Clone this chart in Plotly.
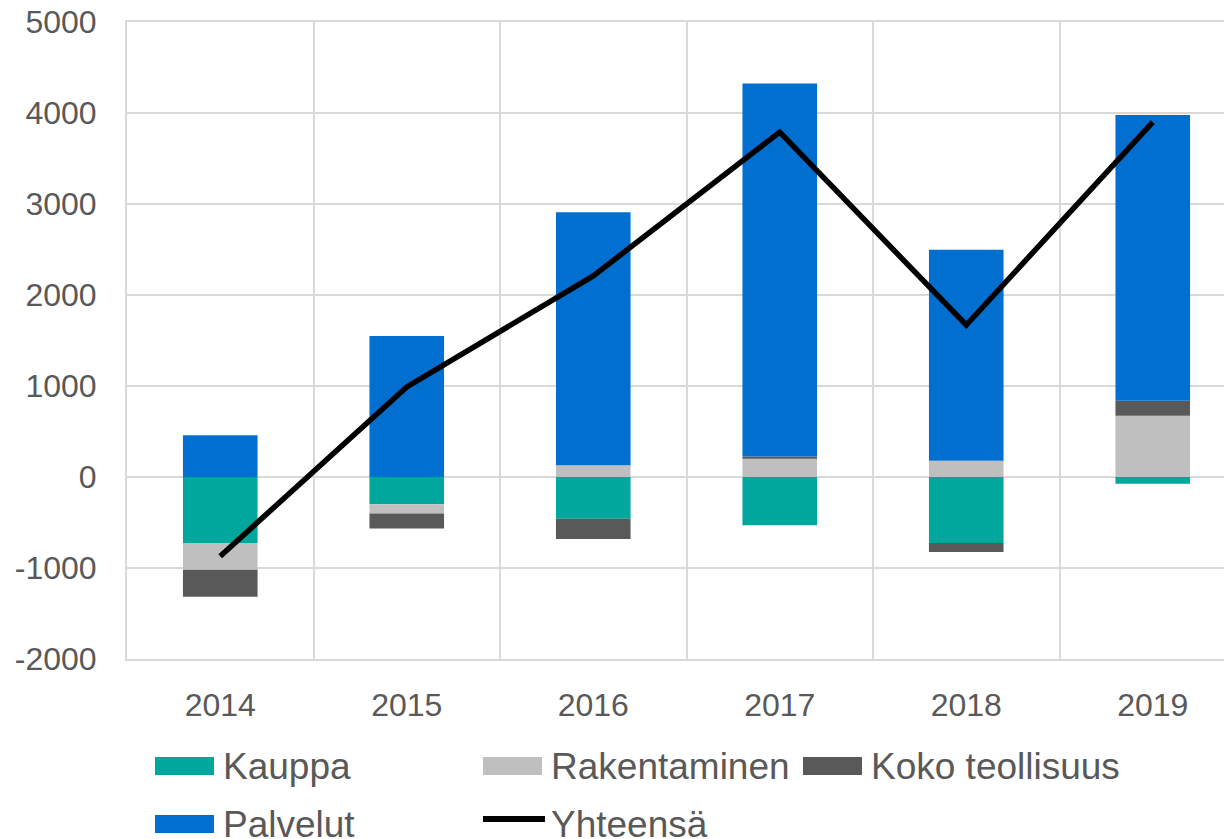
import plotly.graph_objects as go

years = ["2014", "2015", "2016", "2017", "2018", "2019"]
kauppa = [-725, -300, -460, -530, -725, -75]
rakentaminen = [-295, -100, 130, 200, 178, 673]
koko_teollisuus = [-295, -165, -220, 25, -100, 165]
palvelut = [460, 1550, 2780, 4100, 2320, 3140]
yhteensa = [-870, 990, 2210, 3790, 1670, 3900]
y_ticks = [-2000, -1000, 0, 1000, 2000, 3000, 4000, 5000]

grid = "#D9D9D9"
text_col = "#595959"

# the page body has an 8px margin, so the figure is sized to end at the window edge
OFF = 8
W, H = 1232 - OFF, 839 - OFF
L, T = 127 - OFF, 22 - OFF
B = H - (659 - OFF)
PW, PH = W - L, H - T - B


def px_x(x):
    return (x - OFF - L) / PW


def px_y(y):
    return (H - B - (y - OFF)) / PH


fig = go.Figure()
bars = [
    ("Kauppa", kauppa, "#00A79D"),
    ("Rakentaminen", rakentaminen, "#BFBFBF"),
    ("Koko teollisuus", koko_teollisuus, "#595959"),
    ("Palvelut", palvelut, "#006FD0"),
]
for name, vals, col in bars:
    fig.add_trace(go.Bar(
        x=years, y=vals, name=name,
        marker=dict(color=col, line=dict(width=0)),
        width=0.4,
    ))

fig.add_trace(go.Scatter(
    x=years, y=yhteensa, name="Yhteensä", mode="lines",
    line=dict(color="black", width=5.5),
))

# legend drawn by hand so the swatches match the wide Excel-style keys
legend_pos = [(155, 766), (483, 766), (803, 766), (155, 824), (483, 824)]
shapes = []
annotations = []
for (name, _, col), (lx, ly) in zip(bars + [("Yhteensä", None, "black")], legend_pos):
    if name == "Yhteensä":
        shapes.append(dict(type="line", xref="paper", yref="paper",
                           x0=px_x(lx), x1=px_x(lx + 62), y0=px_y(ly - 5), y1=px_y(ly - 5),
                           line=dict(color=col, width=6)))
    else:
        shapes.append(dict(type="rect", xref="paper", yref="paper",
                           x0=px_x(lx), x1=px_x(lx + 59), y0=px_y(ly - 9), y1=px_y(ly + 9),
                           fillcolor=col, line=dict(width=0)))
    annotations.append(dict(text=name, xref="paper", yref="paper",
                            x=px_x(lx + 66), y=px_y(ly), xanchor="left", yanchor="middle",
                            showarrow=False, font=dict(size=37, color=text_col)))

fig.update_layout(
    barmode="relative",
    width=W, height=H,
    paper_bgcolor="white", plot_bgcolor="white",
    font=dict(family="Liberation Sans, Arial, sans-serif", size=32, color=text_col),
    margin=dict(l=L, r=0, t=T, b=B, autoexpand=False),
    xaxis=dict(
        type="category", tickson="boundaries",
        range=[-0.5, -0.5 + PW / 186.5],
        showgrid=True, gridcolor=grid, gridwidth=2,
        ticks="", ticklabelstandoff=17,
        showline=True, mirror=True, linecolor=grid, linewidth=2,
        zeroline=False, automargin=False,
    ),
    yaxis=dict(
        range=[-2000, 5000],
        tickvals=y_ticks, ticktext=[str(v) for v in y_ticks],
        showgrid=True, gridcolor=grid, gridwidth=2,
        showline=True, linecolor=grid, linewidth=2,
        zeroline=False, ticks="", ticklabelstandoff=22, automargin=False,
        ticklabeloverflow="allow",
    ),
    shapes=shapes,
    annotations=annotations,
    showlegend=False,
)

fig.write_html("out.html")
